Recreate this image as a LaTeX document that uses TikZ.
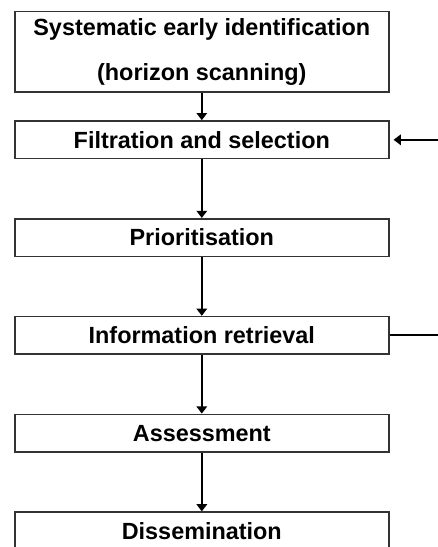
\documentclass[tikz,border=0pt]{standalone}
\usepackage{fontspec}
\setmainfont{Liberation Sans}
\usepackage{tikz}
\usetikzlibrary{arrows.meta,positioning}
\definecolor{StageLine}{HTML}{333333}
\tikzset{
  stage/.style={draw=StageLine, line width=0.8pt, align=center, minimum height=18.8pt,
                minimum width=187pt, inner sep=0pt, fill=white},
  flow/.style={-{Triangle[length=3.6pt,width=5.2pt]}, line width=1pt},
  feed/.style={line width=1pt}
}

\begin{document}
\begin{tikzpicture}[node distance=29.3pt, font=\fontsize{11.7}{22.5}\selectfont\bfseries]
  \useasboundingbox (0,0) rectangle (219pt,-273.5pt);
  \clip (0,0) rectangle (219pt,-273.5pt);
  \node[stage, minimum height=40.2pt, anchor=north west] (scan) at (7pt,-5.4pt)
    {Systematic early identification\\(horizon scanning)};
  \node[stage, below=13.7pt of scan] (filt) {Filtration and selection};
  \node[stage, below=of filt] (prio) {Prioritisation};
  \node[stage, below=of prio] (info) {Information retrieval};
  \node[stage, below=of info] (assess) {Assessment};
  \node[stage, below=of assess] (dissem) {Dissemination};
  \coordinate (edge) at (219pt,0);
  \coordinate (filtin) at (filt.east -| edge);
  \coordinate (infoout) at (info.east -| edge);
  \draw[flow] (scan) -- (filt);
  \draw[flow] (filt) -- (prio);
  \draw[flow] (prio) -- (info);
  \draw[flow] (info) -- (assess);
  \draw[flow] (assess) -- (dissem);
  \draw[flow] (filtin) -- ([xshift=2pt]filt.east);
  \draw[feed] (info.east) -- (infoout);
\end{tikzpicture}
\end{document}
